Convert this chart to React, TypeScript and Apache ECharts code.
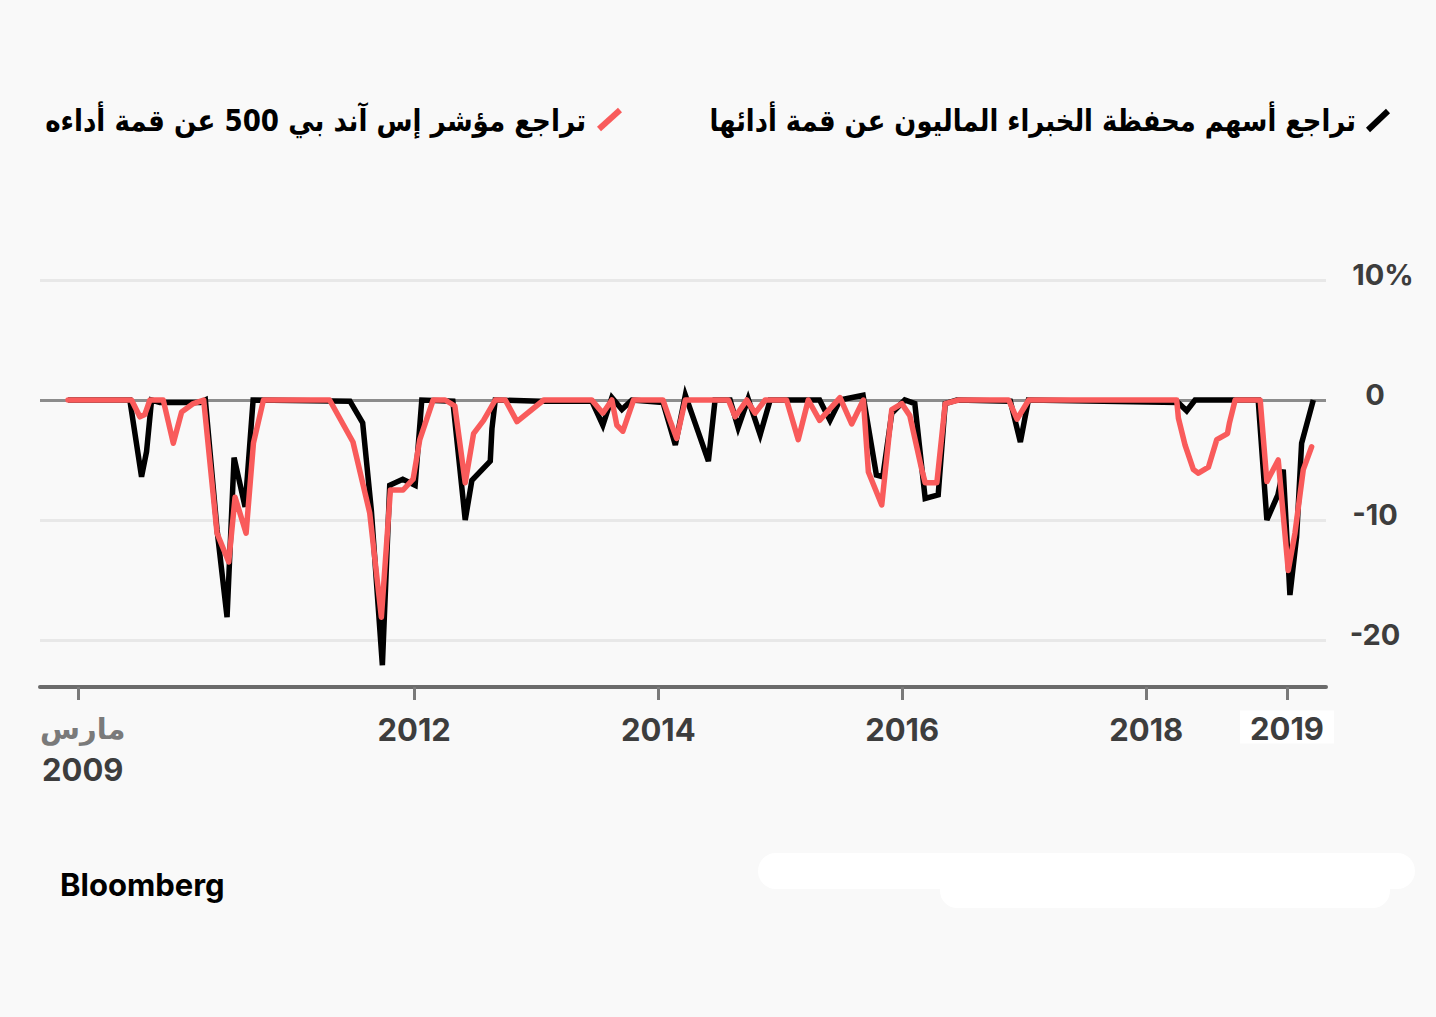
import React, { useEffect, useRef } from 'react';
import * as echarts from 'echarts';

// ---- Data ----
const blackDates = [
  '2009-03-01', '2009-09-02', '2009-10-07', '2009-10-22', '2009-11-06', '2009-12-01', '2010-04-01', '2010-04-16',
  '2010-05-21', '2010-06-20', '2010-07-11', '2010-08-13', '2010-09-06', '2011-06-23', '2011-07-31', '2011-08-26',
  '2011-09-28', '2011-10-20', '2011-11-28', '2012-01-04', '2012-01-24', '2012-04-26', '2012-06-02', '2012-06-22',
  '2012-08-16', '2012-08-21', '2012-08-31', '2013-01-13', '2013-06-16', '2013-07-19', '2013-08-15', '2013-09-14',
  '2013-10-14', '2014-01-15', '2014-02-21', '2014-03-23', '2014-05-31', '2014-06-20', '2014-08-04', '2014-08-28',
  '2014-09-27', '2014-11-02', '2014-12-02', '2015-04-29', '2015-05-30', '2015-06-29', '2015-09-06', '2015-10-16',
  '2015-11-04', '2015-12-01', '2016-01-09', '2016-02-08', '2016-03-10', '2016-04-18', '2016-05-09', '2016-06-13',
  '2016-11-20', '2016-12-20', '2017-01-13', '2018-04-06', '2018-05-02', '2018-05-27', '2018-12-02', '2018-12-28',
  '2019-01-30', '2019-02-15', '2019-03-07', '2019-03-27', '2019-04-11', '2019-05-16',
];
const blackValues = [
  0, 0, -6.4, -4.3, 0, -0.2, -0.2, 0,
  -10.8, -18.1, -4.8, -8.9, 0, -0.1, -1.9, -9.2,
  -22.1, -7.1, -6.6, -7.1, 0, -0.1, -10, -6.7,
  -5.1, -2.4, 0, -0.1, -0.1, -2.1, 0.2, -0.8,
  0, -0.2, -3.75, 0.4, -5.1, 0, 0, -2.3,
  0.1, -2.9, 0, 0, -1.7, 0, 0.4, -6.25,
  -6.4, -1.1, 0, -0.3, -8.2, -7.9, -0.3, 0,
  -0.1, -3.5, 0, -0.2, -0.9, 0, 0, -10,
  -7.9, -5.8, -16.25, -11.4, -3.6, 0,
];

const redDates = [
  '2009-03-01', '2009-09-07', '2009-10-02', '2009-10-17', '2009-11-01', '2009-12-11', '2010-01-10', '2010-02-04',
  '2010-03-11', '2010-04-11', '2010-05-21', '2010-06-25', '2010-07-14', '2010-08-16', '2010-09-07', '2010-10-07',
  '2011-04-23', '2011-07-02', '2011-08-21', '2011-09-25', '2011-10-22', '2011-11-29', '2011-12-29', '2012-01-18',
  '2012-02-27', '2012-04-03', '2012-05-02', '2012-06-02', '2012-06-27', '2012-07-27', '2012-08-31', '2012-09-30',
  '2012-11-04', '2013-01-23', '2013-06-16', '2013-07-19', '2013-08-15', '2013-08-30', '2013-09-17', '2013-10-19',
  '2014-01-15', '2014-02-05', '2014-02-25', '2014-03-23', '2014-07-30', '2014-08-19', '2014-09-23', '2014-10-18',
  '2014-11-17', '2015-01-20', '2015-02-24', '2015-03-26', '2015-04-29', '2015-06-29', '2015-08-03', '2015-09-07',
  '2015-09-22', '2015-11-01', '2015-12-01', '2015-12-31', '2016-01-24', '2016-02-28', '2016-03-10', '2016-04-14',
  '2016-05-09', '2016-06-18', '2016-11-15', '2016-12-10', '2017-01-14', '2018-04-02', '2018-04-07', '2018-04-27',
  '2018-05-22', '2018-06-06', '2018-07-06', '2018-07-31', '2018-09-01', '2018-09-07', '2018-09-24', '2018-12-08',
  '2018-12-28', '2019-01-31', '2019-03-02', '2019-03-22', '2019-04-16', '2019-05-11',
];
const redValues = [
  0, 0, -1.4, -1.2, 0, 0, -3.6, -1.0,
  -0.3, 0, -11.1, -13.5, -8.1, -11.1, -3.6, 0,
  0, -3.5, -9.4, -18.1, -7.5, -7.5, -6.6, -3.3,
  0, 0, -0.5, -6.9, -2.8, -1.7, 0, 0,
  -1.8, 0, 0, -1.1, 0, -2.1, -2.6, 0,
  0, -1.7, -3.2, 0, 0, -1.4, 0, -1.1,
  0, 0, -3.3, 0, -1.7, 0.2, -2.0, 0,
  -6.0, -8.75, -0.8, -0.3, -1.3, -5.7, -6.9, -6.9,
  -0.3, 0, 0, -1.6, 0, 0, -1.5, -3.75,
  -5.8, -6.1, -5.6, -3.3, -2.8, -1.9, 0, 0,
  -6.8, -5.0, -14.2, -11.1, -5.8, -3.9,
];

const xTickDates = ['2009-04-02', '2012-01-01', '2014-01-01', '2016-01-01', '2018-01-01', '2019-02-26'];
const xTickLabels = ['مارس\n2009', '2012', '2014', '2016', '2018', '2019'];
const yTickLabels = ['-20', '-10', '0', '10%'];

const legendBlack = 'تراجع أسهم محفظة الخبراء الماليون عن قمة أدائها';
const legendRed = 'تراجع مؤشر إس آند بي 500 عن قمة أداءه';
const sourceText = 'Bloomberg';

const ts = (s: string) => {
  const [y, m, d] = s.split('-').map(Number);
  return Date.UTC(y, m - 1, d);
};

const blackData = blackDates.map((d, i) => [ts(d), blackValues[i]]);
const redData = redDates.map((d, i) => [ts(d), redValues[i]]);
const tickTs = xTickDates.map(ts);

const LATIN = 'Inter, "Liberation Sans", sans-serif';
const ARABIC = '"DejaVu Sans", sans-serif';

export default function App() {
  const ref = useRef<HTMLDivElement>(null);
  useEffect(() => {
    document.body.style.margin = '0';
    const chart = echarts.init(ref.current!, null, { renderer: 'svg' });
    const yBase = { color: '#3d3d3d', fontFamily: LATIN, fontWeight: 'bold', fontSize: 29, lineHeight: 12 };
    const option: any = {
      animation: false,
      backgroundColor: '#f9f9f9',
      grid: { left: 40, right: 110, top: 280, bottom: 377 },
      xAxis: {
        type: 'value',
        min: ts('2008-12-07'),
        max: ts('2019-06-23'),
        offset: 47,
        axisLine: { show: true, onZero: false, lineStyle: { color: '#6b6b6b', width: 4 } },
        axisTick: { show: true, customValues: tickTs, length: 13, lineStyle: { color: '#7a7a7a', width: 3 } },
        axisLabel: {
          customValues: tickTs,
          margin: 22,
          formatter: (val: number) => {
            const idx = tickTs.findIndex((t) => Math.abs(t - val) < 86400000 * 2);
            const lab = idx >= 0 ? xTickLabels[idx] : '';
            if (lab.indexOf('\n') >= 0) {
              const [a, b] = lab.split('\n');
              return '{m|' + a + '}\n{f|' + b + '}';
            }
            if (idx === xTickLabels.length - 1) return '{w|' + lab + '}';
            return '{y|' + lab + '}';
          },
          rich: {
            m: { color: '#7a7a7a', fontSize: 29, fontWeight: 'bold', fontFamily: ARABIC, lineHeight: 40, padding: [0, 0, 0, 8] },
            f: { color: '#3d3d3d', fontSize: 31, fontWeight: 'bold', fontFamily: LATIN, lineHeight: 40, padding: [0, 0, 0, 8] },
            y: { color: '#3d3d3d', fontSize: 31, fontWeight: 'bold', fontFamily: LATIN, lineHeight: 40 },
            w: {
              color: '#3d3d3d', fontSize: 31, fontWeight: 'bold', fontFamily: LATIN, lineHeight: 36,
              backgroundColor: '#ffffff', padding: [2, 10, 0, 10],
            },
          },
        },
        splitLine: { show: false },
      },
      yAxis: {
        type: 'value',
        position: 'right',
        min: -20,
        max: 10,
        interval: 10,
        axisLine: { show: false },
        axisTick: { show: false },
        axisLabel: {
          margin: 49,
          align: 'center',
          verticalAlign: 'bottom',
          formatter: (v: number) => {
            const lab = yTickLabels[Math.round((v + 20) / 10)] ?? String(v);
            return lab.indexOf('%') >= 0 ? '{p|' + lab + '}' : '{n|' + lab + '}';
          },
          rich: {
            n: { ...yBase },
            p: { ...yBase, padding: [0, 0, 0, 16] },
          },
          ...yBase,
        },
        splitLine: {
          show: true,
          lineStyle: { color: ['#e8e8e8', '#e8e8e8', '#8c8c8c', '#e8e8e8'], width: 3 },
        },
      },
      series: [
        {
          type: 'line',
          data: blackData,
          symbol: 'none',
          clip: false,
          lineStyle: { color: '#000000', width: 5.5, join: 'miter', miterLimit: 4 },
          z: 2,
        },
        {
          type: 'line',
          data: redData,
          symbol: 'none',
          clip: false,
          lineStyle: { color: '#f95b5b', width: 5.5, join: 'round', cap: 'round' },
          z: 3,
        },
      ],
      graphic: [
        {
          type: 'line',
          shape: { x1: 1368, y1: 130, x2: 1388, y2: 111 },
          style: { stroke: '#000000', lineWidth: 6 },
        },
        {
          type: 'text',
          x: 1356,
          y: 121,
          scaleX: 0.86,
          style: {
            text: legendBlack, align: 'right', verticalAlign: 'middle',
            font: 'bold 30px "DejaVu Sans", sans-serif', fill: '#000000',
          },
        },
        {
          type: 'line',
          shape: { x1: 599, y1: 129, x2: 620, y2: 110 },
          style: { stroke: '#f95b5b', lineWidth: 6 },
        },
        {
          type: 'text',
          x: 586,
          y: 121,
          scaleX: 0.872,
          style: {
            text: legendRed, align: 'right', verticalAlign: 'middle',
            font: 'bold 30px "DejaVu Sans", sans-serif', fill: '#000000',
          },
        },
        {
          type: 'text',
          x: 60,
          y: 884,
          style: {
            text: sourceText, align: 'left', verticalAlign: 'middle',
            font: 'bold 31px Inter, sans-serif', fill: '#000000',
          },
        },
        {
          type: 'rect',
          shape: { x: 758, y: 853, width: 657, height: 36, r: 18 },
          style: { fill: '#ffffff' },
        },
        {
          type: 'rect',
          shape: { x: 940, y: 874, width: 450, height: 34, r: 17 },
          style: { fill: '#ffffff' },
        },
      ],
    };
    chart.setOption(option);
    return () => chart.dispose();
  }, []);
  return <div ref={ref} style={{ width: 1436, height: 1017 }} />;
}
